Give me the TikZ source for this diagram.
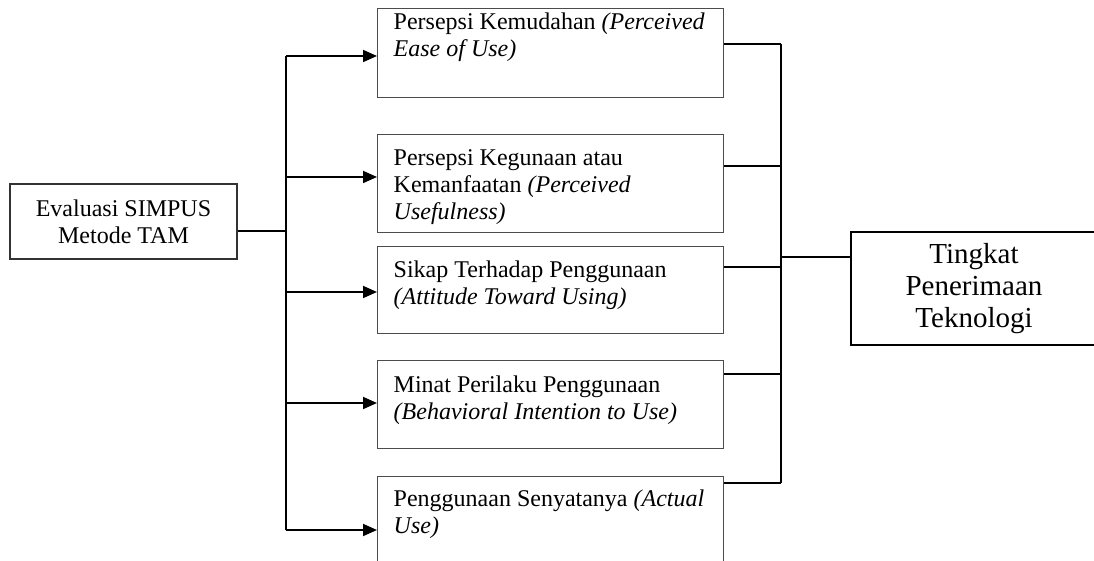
\documentclass[tikz,border=0pt]{standalone}
\usepackage{fontspec}
\setmainfont{Liberation Serif}
\usetikzlibrary{arrows.meta}
\tikzstyle{tam}=[draw=black!70,line width=0.7pt,anchor=north west,
  inner xsep=8pt,inner ysep=0pt,font=\fontsize{12}{13.5}\selectfont]
\tikzstyle{src}=[draw=black!80,line width=0.7pt,align=center,
  minimum width=113.5pt,minimum height=37.5pt,font=\fontsize{12}{13.5}\selectfont]
\tikzstyle{res}=[draw=black,line width=1.3pt,align=center,
  minimum width=123pt,minimum height=56.5pt,font=\fontsize{14.5}{15.8}\selectfont]
\tikzstyle{arr}=[-{Triangle[length=7pt,width=6pt]},line width=0.9pt]
\tikzstyle{ln}=[line width=0.6pt]
\newcommand{\tamtxt}[3]{\parbox[t][#1][t]{157pt}{\raggedright\rule{0pt}{#2}#3}}

\begin{document}
\begin{tikzpicture}[x=0.5pt,y=-0.5pt]
    \useasboundingbox (0,0) rectangle (1094,561);
    \clip (0,0) rectangle (1094,561);
    \node [style=src] (evl) at (123.5,221.5) {Evaluasi SIMPUS\\Metode TAM};
    \node [style=tam] (peou) at (377,8) {\tamtxt{44.5pt}{10.5pt}{Persepsi Kemudahan \textit{(Perceived}\\\textit{Ease of Use)}}};
    \node [style=tam] (pu) at (377,134) {\tamtxt{49pt}{15.5pt}{Persepsi Kegunaan atau\\Kemanfaatan \textit{(Perceived}\\\textit{Usefulness)}}};
    \node [style=tam] (atu) at (377,246) {\tamtxt{43.5pt}{15.5pt}{Sikap Terhadap Penggunaan\\\textit{(Attitude Toward Using)}}};
    \node [style=tam] (bitu) at (377,360) {\tamtxt{44pt}{16pt}{Minat Perilaku Penggunaan\\\textit{(Behavioral Intention to Use)}}};
    \node [style=tam] (au) at (377,476) {\tamtxt{44pt}{15pt}{Penggunaan Senyatanya \textit{(Actual}\\\textit{Use)}}};
    \node [style=res] (tpt) at (974,288.5) {Tingkat\\Penerimaan\\Teknologi};
    % left branch
    \coordinate (jl) at (286,231);
    \coordinate (t1) at (286,56);
    \coordinate (t2) at (286,177);
    \coordinate (t3) at (286,292);
    \coordinate (t4) at (286,403);
    \coordinate (t5) at (286,530);
    \draw [line width=0.9pt] (evl.east |- jl) -- (jl);
    \draw [line width=0.9pt] (t1) -- (t5);
    \draw [style=arr] (t1) -- (t1 -| peou.west);
    \draw [style=arr] (t2) -- (t2 -| pu.west);
    \draw [style=arr] (t3) -- (t3 -| atu.west);
    \draw [style=arr] (t4) -- (t4 -| bitu.west);
    \draw [style=arr] (t5) -- (t5 -| au.west);
    % right branch
    \coordinate (r1) at (781,44);
    \coordinate (r2) at (781,166);
    \coordinate (r3) at (781,267);
    \coordinate (r4) at (781,374);
    \coordinate (r5) at (781,483);
    \coordinate (jr) at (781,257);
    \draw [style=ln] (peou.east |- r1) -- (r1);
    \draw [style=ln] (pu.east |- r2) -- (r2);
    \draw [style=ln] (atu.east |- r3) -- (r3);
    \draw [style=ln] (bitu.east |- r4) -- (r4);
    \draw [style=ln] (au.east |- r5) -- (r5);
    \draw [style=ln] (r1) -- (r5);
    \draw [style=ln] (jr) -- (jr -| tpt.west);
\end{tikzpicture}
\end{document}
